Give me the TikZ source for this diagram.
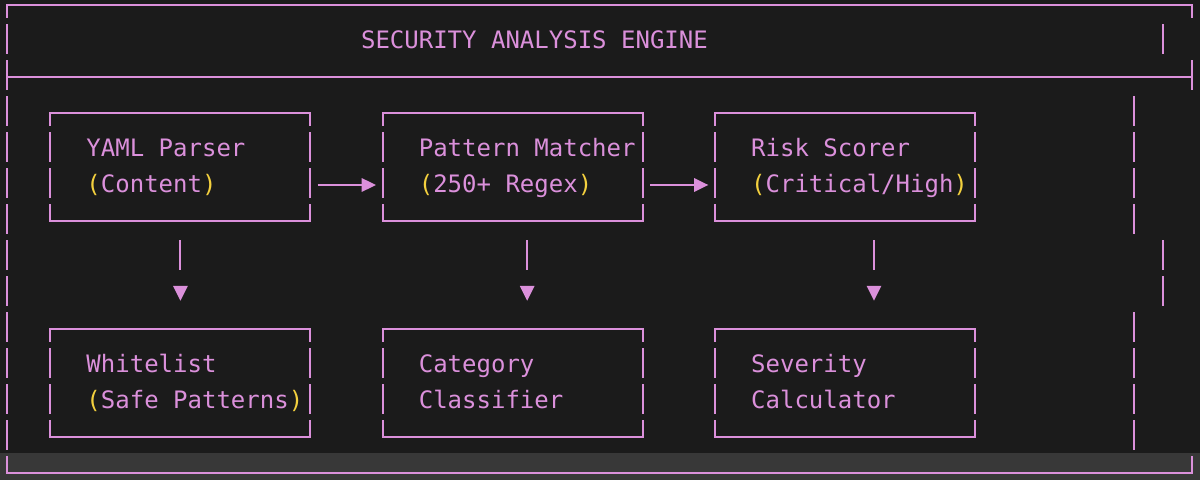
\documentclass[tikz,border=0pt]{standalone}
\usepackage{fontspec}
\setmonofont{DejaVu Sans Mono}
\usetikzlibrary{calc,arrows.meta,decorations.markings}
\definecolor{bgc}{HTML}{1B1B1B}
\definecolor{bandc}{HTML}{383838}
\definecolor{pinkc}{HTML}{DB90DB}
\definecolor{yelc}{HTML}{F3D03E}
\newcommand{\pr}[1]{\textcolor{yelc}{#1}}
\begin{document}
\begin{tikzpicture}[x=0.5pt,y=-0.5pt,
  box/.style={rectangle,draw=none,inner sep=0pt,outer sep=0pt,minimum width=130.05pt,minimum height=54pt},
  lbl/.style={anchor=base west,inner sep=0pt,outer sep=0pt,font=\ttfamily\fontsize{12pt}{18pt}\selectfont,text=pinkc},
  hline/.style={draw=pinkc,line width=1pt,line cap=rect},
  vside/.style={draw=pinkc,line width=1pt,line cap=butt,dash pattern=on 15pt off 3pt,dash phase=8.25pt},
  vfull/.style={draw=pinkc,line width=1pt,line cap=butt,dash pattern=on 15pt off 3pt},
  hconn/.style={draw=pinkc,line width=1pt,line cap=butt,shorten <=3.6pt,shorten >=3.35pt,-{Triangle[length=7.15pt,width=6.7pt]}},
  vconn/.style={draw=pinkc,line width=1pt,line cap=butt,dash pattern=on 15pt off 39pt,dash phase=44.25pt,
    postaction={decorate},
    decoration={markings,mark=at position 39.85pt with {\fill[pinkc] (0pt,0pt) -- (-7.35pt,3.68pt) -- (-7.35pt,-3.68pt) -- cycle;}}}
]
\fill[bgc] (0,0) rectangle (1200,480);
\fill[bandc] (0,453.5) rectangle (1200,480);
\useasboundingbox (0,0) rectangle (1200,480);

% outer frame
\draw[hline] (7,5) -- (1192,5);
\draw[hline] (7,77) -- (1192,77);
\draw[hline] (7,473) -- (1192,473);
\draw[vside] (7,5) -- (7,473);
\draw[vside] (1192,5) -- (1192,18.5);
\draw[vfull] (1192,60.5) -- (1192,90.5);
\draw[vfull] (1192,456.5) -- (1192,473);
\draw[vfull] (1163,24.5) -- (1163,54.5);
\draw[vfull] (1163,240.5) -- (1163,306.5);
\draw[vfull] (1134.1,96.5) -- (1134.1,234.5);
\draw[vfull] (1134.1,312.5) -- (1134.1,450.5);

\node[lbl] (title) at (361.05,48.5) {SECURITY ANALYSIS ENGINE};

% boxes
\node[box] (yaml) at (180.4,167) {};
\node[box] (pat) at (512.75,167) {};
\node[box] (risk) at (845.1,167) {};
\node[box] (white) at (180.4,383) {};
\node[box] (cat) at (512.75,383) {};
\node[box] (sev) at (845.1,383) {};

\foreach \b in {yaml,pat,risk,white,cat,sev}{
  \draw[hline] (\b.north west) -- (\b.north east);
  \draw[hline] (\b.south west) -- (\b.south east);
  \draw[vside] (\b.north west) -- (\b.south west);
  \draw[vside] (\b.north east) -- (\b.south east);
}

\node[lbl] (yamlA) at ($(yaml.north west)+(36.125,43.5)$) {YAML Parser};
\node[lbl] (yamlB) at ($(yaml.north west)+(36.125,79.5)$) {\pr{(}Content\pr{)}};
\node[lbl] (patA) at ($(pat.north west)+(36.125,43.5)$) {Pattern Matcher};
\node[lbl] (patB) at ($(pat.north west)+(36.125,79.5)$) {\pr{(}250+ Regex\pr{)}};
\node[lbl] (riskA) at ($(risk.north west)+(36.125,43.5)$) {Risk Scorer};
\node[lbl] (riskB) at ($(risk.north west)+(36.125,79.5)$) {\pr{(}Critical/High\pr{)}};
\node[lbl] (whiteA) at ($(white.north west)+(36.125,43.5)$) {Whitelist};
\node[lbl] (whiteB) at ($(white.north west)+(36.125,79.5)$) {\pr{(}Safe Patterns\pr{)}};
\node[lbl] (catA) at ($(cat.north west)+(36.125,43.5)$) {Category};
\node[lbl] (catB) at ($(cat.north west)+(36.125,79.5)$) {Classifier};
\node[lbl] (sevA) at ($(sev.north west)+(36.125,43.5)$) {Severity};
\node[lbl] (sevB) at ($(sev.north west)+(36.125,79.5)$) {Calculator};

% connectors
\draw[hconn] ($(yaml.east)+(0,18)$) -- ($(pat.west)+(0,18)$);
\draw[hconn] ($(pat.east)+(0,18)$) -- ($(risk.west)+(0,18)$);
\draw[vconn] (yaml.south) -- (white.north);
\draw[vconn] ($(pat.south)+(14.45,0)$) -- ($(cat.north)+(14.45,0)$);
\draw[vconn] ($(risk.south)+(28.9,0)$) -- ($(sev.north)+(28.9,0)$);
\end{tikzpicture}
\end{document}
